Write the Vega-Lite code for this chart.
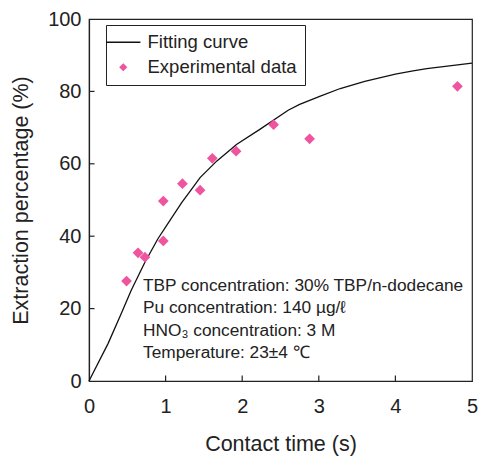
{
  "$schema": "https://vega.github.io/schema/vega-lite/v6.json",
  "width": 383,
  "height": 362,
  "autosize": {"type": "none"},
  "padding": {"left": 89, "top": 19, "right": 6, "bottom": 76},
  "background": "white",
  "config": {
    "font": "Liberation Sans",
    "view": {"stroke": "#222", "strokeWidth": 1.2},
    "axis": {
      "grid": false,
      "domainColor": "#222",
      "domainWidth": 1.2,
      "ticks": false,
      "tickSize": 0,
      "labelFlush": false,
      "labelOverlap": false,
      "labelFont": "Liberation Sans",
      "labelFontSize": 20,
      "labelColor": "#222",
      "titleFont": "Liberation Sans",
      "titleFontSize": 21.5,
      "titleFontWeight": "normal",
      "titleColor": "#222"
    }
  },
  "datasets": {
    "curve": [
      {"t": 0, "v": 0}, {"t": 0.25, "v": 10.4}, {"t": 0.42, "v": 18.6}, {"t": 0.55, "v": 25.0},
      {"t": 0.73, "v": 32.8}, {"t": 0.9, "v": 39.3}, {"t": 1.07, "v": 44.8}, {"t": 1.21, "v": 49.3},
      {"t": 1.35, "v": 53.3}, {"t": 1.45, "v": 56.2}, {"t": 1.67, "v": 60.8}, {"t": 1.93, "v": 65.4},
      {"t": 2.23, "v": 69.5}, {"t": 2.6, "v": 74.8}, {"t": 2.75, "v": 76.4}, {"t": 3.02, "v": 78.7},
      {"t": 3.28, "v": 80.8}, {"t": 3.6, "v": 82.8}, {"t": 4.0, "v": 84.8}, {"t": 4.23, "v": 85.7},
      {"t": 4.41, "v": 86.3}, {"t": 5.0, "v": 87.8}
    ],
    "points": [
      {"t": 0.49, "v": 27.6}, {"t": 0.64, "v": 35.4}, {"t": 0.73, "v": 34.2}, {"t": 0.97, "v": 49.7},
      {"t": 0.97, "v": 38.7}, {"t": 1.22, "v": 54.5}, {"t": 1.45, "v": 52.7}, {"t": 1.61, "v": 61.5},
      {"t": 1.92, "v": 63.5}, {"t": 2.41, "v": 70.8}, {"t": 2.88, "v": 66.9}, {"t": 4.81, "v": 81.4}
    ],
    "xticks": [{"tick": 1}, {"tick": 2}, {"tick": 3}, {"tick": 4}],
    "yticks": [{"tick": 20}, {"tick": 40}, {"tick": 60}, {"tick": 80}]
  },
  "layer": [
    {
      "data": {"name": "curve"},
      "mark": {"type": "line", "strokeWidth": 1.3},
      "encoding": {
        "x": {
          "field": "t", "type": "quantitative",
          "scale": {"domain": [0, 5], "nice": false},
          "axis": {"values": [0, 1, 2, 3, 4, 5], "format": "d", "title": "Contact time (s)", "labelPadding": 15, "titlePadding": 17}
        },
        "y": {
          "field": "v", "type": "quantitative",
          "scale": {"domain": [0, 100], "nice": false},
          "axis": {"values": [0, 20, 40, 60, 80, 100], "format": "d", "title": "Extraction percentage (%)", "labelPadding": 8, "titlePadding": 15}
        },
        "color": {
          "datum": "Fitting curve",
          "scale": {"domain": ["Fitting curve", "Experimental data"], "range": ["#111111", "#ef559f"]},
          "legend": {
            "orient": "none",
            "legendX": 17,
            "legendY": 6,
            "title": null,
            "strokeColor": "#222",
            "fillColor": "white",
            "padding": 8,
            "labelFont": "Liberation Sans",
            "labelFontSize": 18.5,
            "labelColor": "#222",
            "labelLimit": 400,
            "labelOffset": 15,
            "rowPadding": 6,
            "symbolType": "stroke",
            "symbolSize": 1180,
            "symbolStrokeWidth": 1.3,
            "encode": {
              "symbols": {
                "update": {
                  "shape": {"signal": "datum.value == 'Fitting curve' ? 'stroke' : 'diamond'"},
                  "fill": {"signal": "datum.value == 'Fitting curve' ? 'transparent' : '#ef559f'"},
                  "stroke": {"signal": "datum.value == 'Fitting curve' ? '#111111' : 'transparent'"},
                  "size": {"signal": "datum.value == 'Fitting curve' ? 1180 : 40"}
                }
              }
            }
          }
        }
      }
    },
    {
      "data": {"name": "points"},
      "mark": {"type": "point", "shape": "diamond", "filled": true, "size": 115, "opacity": 1},
      "encoding": {
        "x": {"field": "t", "type": "quantitative"},
        "y": {"field": "v", "type": "quantitative"},
        "color": {"datum": "Experimental data"}
      }
    },
    {
      "data": {"name": "xticks"},
      "mark": {"type": "rule", "color": "#222", "strokeWidth": 1.2},
      "encoding": {
        "x": {"field": "tick", "type": "quantitative"},
        "y": {"datum": 0},
        "y2": {"datum": 1.5}
      }
    },
    {
      "data": {"name": "yticks"},
      "mark": {"type": "rule", "color": "#222", "strokeWidth": 1.2},
      "encoding": {
        "y": {"field": "tick", "type": "quantitative"},
        "x": {"datum": 0},
        "x2": {"datum": 0.072}
      }
    },
    {
      "data": {"values": [{"note": "conditions"}]},
      "mark": {
        "type": "text",
        "align": "left",
        "baseline": "alphabetic",
        "font": "Liberation Sans",
        "fontSize": 17.3,
        "lineHeight": 22.5,
        "color": "#222"
      },
      "encoding": {
        "x": {"datum": 0.705},
        "y": {"datum": 24.9},
        "text": {"value": ["TBP concentration: 30% TBP/n-dodecane", "Pu concentration: 140 µg/ℓ", "HNO₃ concentration: 3 M", "Temperature: 23±4 ℃"]}
      }
    }
  ]
}
